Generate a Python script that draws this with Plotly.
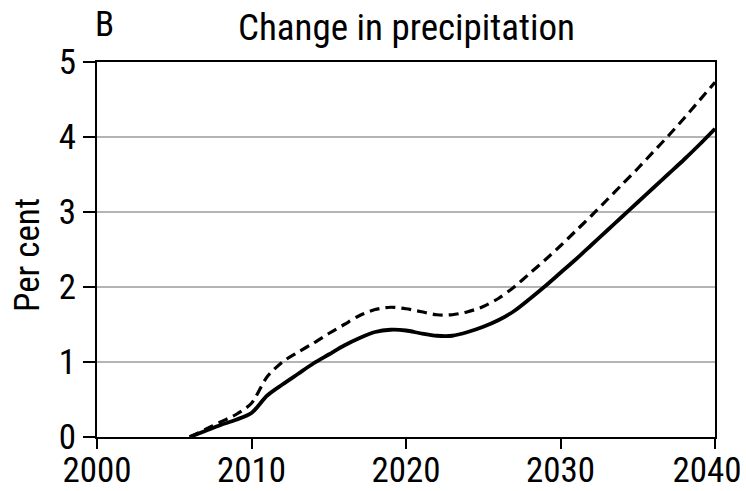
import plotly.graph_objects as go

years = list(range(2006, 2041))
solid_vals = [0.0, 0.08, 0.16, 0.23, 0.32, 0.55, 0.70, 0.84, 0.98, 1.10,
              1.22, 1.32, 1.40, 1.43, 1.42, 1.38, 1.35, 1.35, 1.40, 1.47,
              1.56, 1.68, 1.84, 2.01, 2.19, 2.37, 2.56, 2.75, 2.94, 3.13,
              3.32, 3.51, 3.70, 3.90, 4.11]
dashed_vals = [0.0, 0.10, 0.20, 0.30, 0.45, 0.80, 1.00, 1.13, 1.25, 1.38,
               1.50, 1.62, 1.70, 1.73, 1.71, 1.67, 1.63, 1.63, 1.67, 1.74,
               1.85, 2.00, 2.18, 2.36, 2.55, 2.75, 2.95, 3.16, 3.37, 3.58,
               3.80, 4.02, 4.25, 4.49, 4.73]
x_ticks = [2000, 2010, 2020, 2030, 2040]
y_ticks = [0, 1, 2, 3, 4, 5]

FONT = "Roboto Condensed, Liberation Sans Narrow, Arial Narrow, Liberation Sans, sans-serif"

# last label padded so it stays inside the figure, like the reference
x_ticktext = [str(t) for t in x_ticks]
x_ticktext[-1] = x_ticktext[-1] + "\u00a0\u00a0"

fig = go.Figure()
fig.add_trace(go.Scatter(x=years, y=dashed_vals, mode="lines",
                         line=dict(color="black", width=3.2, dash="10px,6px", shape="spline", smoothing=0.8),
                         showlegend=False))
fig.add_trace(go.Scatter(x=years, y=solid_vals, mode="lines",
                         line=dict(color="black", width=3.8, shape="spline", smoothing=0.8),
                         showlegend=False))

fig.update_layout(
    width=746, height=491,
    margin=dict(l=97, r=31, t=62, b=54),
    paper_bgcolor="white", plot_bgcolor="white",
    font=dict(family=FONT, size=35, color="black"),
    showlegend=False,
)
fig.update_xaxes(range=[2000, 2040], tickvals=x_ticks, ticktext=x_ticktext,
                 ticks="outside", ticklen=10, ticklabelstandoff=-9, ticklabeloverflow="allow",
                 tickwidth=1.5, tickcolor="black", showgrid=False, zeroline=False,
                 showline=True, linecolor="black", linewidth=2, mirror=True,
                 automargin=False, tickfont=dict(family=FONT, size=35))
fig.update_yaxes(range=[0, 5], tickvals=y_ticks, ticks="outside", ticklen=12,
                 tickwidth=1.5, tickcolor="black", showgrid=True, gridcolor="#b4b4b4",
                 gridwidth=1.5, zeroline=False, showline=True, linecolor="black",
                 linewidth=2, mirror=True, automargin=False, tickfont=dict(family=FONT, size=35))

fig.add_annotation(text="Change in precipitation", xref="paper", yref="paper",
                   x=0.5, y=1 + (62 - 27) / 375, xanchor="center", yanchor="middle",
                   showarrow=False, font=dict(family=FONT, size=37))
fig.add_annotation(text="B", xref="paper", yref="paper",
                   x=(104.5 - 97) / 618, y=1 + (62 - 25) / 375, xanchor="center", yanchor="middle",
                   showarrow=False, font=dict(family=FONT, size=35))
fig.add_annotation(text="Per cent", xref="paper", yref="paper",
                   x=(28 - 97) / 618, y=(437 - 255) / 375, xanchor="center", yanchor="middle",
                   textangle=-90, showarrow=False, font=dict(family=FONT, size=35))

fig.write_html("out.html", config={"displayModeBar": False},
               post_script="document.body.style.margin='0';document.body.style.overflow='hidden';")
